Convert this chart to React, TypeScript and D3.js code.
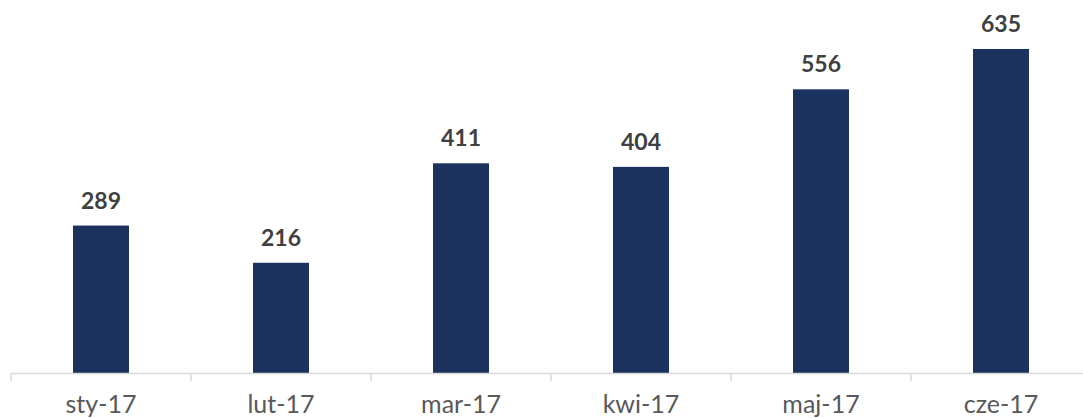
import React from "react";
import * as d3 from "d3";

const categories: string[] = ["sty-17", "lut-17", "mar-17", "kwi-17", "maj-17", "cze-17"];
const values: number[] = [289, 216, 411, 404, 556, 635];

const W = 1083;
const H = 418;
const baseY = 373;

export default function App() {
  const x = d3
    .scaleBand<string>()
    .domain(categories)
    .range([11, 1091])
    .paddingInner(0.689)
    .paddingOuter(0.3445);
  const y = d3.scaleLinear().domain([0, 635]).range([baseY, 49]);
  const step = x.step();
  const start = x.range()[0];
  const ticks = d3.range(categories.length + 1).map((i) => start + i * step);

  return (
    <svg
      width={W}
      height={H}
      style={{ position: "fixed", left: 0, top: 0, background: "#fff" }}
    >
      {categories.map((c, i) => (
        <rect
          key={c}
          x={x(c)}
          y={y(values[i])}
          width={x.bandwidth()}
          height={baseY - y(values[i])}
          fill="#1b325f"
        />
      ))}
      <line x1={start} x2={W} y1={baseY + 0.5} y2={baseY + 0.5} stroke="#d9d9d9" strokeWidth={1.5} />
      {ticks.map((t, i) => (
        <line key={i} x1={t} x2={t} y1={baseY} y2={baseY + 8} stroke="#d9d9d9" strokeWidth={1.5} />
      ))}
      {categories.map((c, i) => (
        <text
          key={"v" + c}
          x={(x(c) as number) + x.bandwidth() / 2}
          y={y(values[i]) - 17}
          textAnchor="middle"
          fontFamily="Lato"
          fontWeight="bold"
          fontSize={23}
          fill="#404040"
        >
          {values[i]}
        </text>
      ))}
      {categories.map((c) => (
        <text
          key={"t" + c}
          x={(x(c) as number) + x.bandwidth() / 2}
          y={baseY + 40}
          textAnchor="middle"
          fontFamily="Lato"
          fontSize={25}
          fill="#595959"
        >
          {c}
        </text>
      ))}
    </svg>
  );
}
